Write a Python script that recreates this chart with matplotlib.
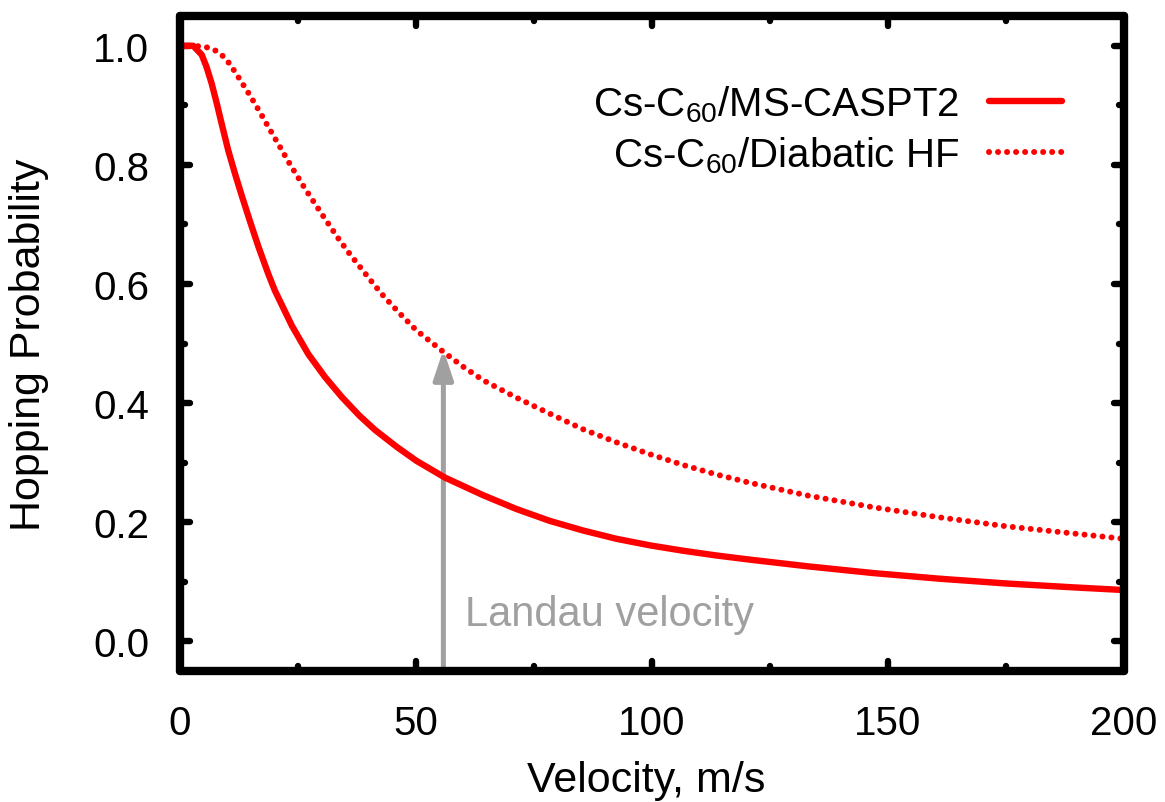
import matplotlib
matplotlib.use("Agg")
import matplotlib.pyplot as plt
import matplotlib.transforms as mtransforms
from matplotlib.markers import MarkerStyle
from matplotlib.ticker import MultipleLocator

# 字体: Helvetica 风格
plt.rcParams["font.family"] = ["Liberation Sans", "DejaVu Sans"]
plt.rcParams["mathtext.fontset"] = "custom"
plt.rcParams["mathtext.rm"] = "Liberation Sans"
plt.rcParams["mathtext.it"] = "Liberation Sans:italic"
plt.rcParams["mathtext.bf"] = "Liberation Sans:bold"

# ---------- 数据 ----------
v_caspt2 = [0, 2.8, 4.6, 5.6, 6.7, 7.8, 8.8, 10.2, 11.7, 13.1, 14.8, 16.6, 18.7,
            20.1, 23.7, 27.2, 30.7, 34.3, 38.0, 41.3, 46.0, 50.1, 56.1, 64.3,
            71.3, 78.4, 85.4, 92.5, 99.6, 106.6, 113.7, 120.8, 132.8, 146.9,
            161.0, 175.1, 189.3, 200]
p_caspt2 = [1.0, 1.0, 0.985, 0.965, 0.937, 0.903, 0.870, 0.825, 0.784, 0.748,
            0.706, 0.663, 0.617, 0.589, 0.530, 0.482, 0.444, 0.410, 0.379, 0.355,
            0.326, 0.303, 0.275, 0.245, 0.222, 0.202, 0.186, 0.172, 0.161, 0.152,
            0.144, 0.137, 0.126, 0.1145, 0.105, 0.097, 0.0905, 0.086]

v_hf = [0, 3.2, 6.0, 7.8, 9.2, 10.6, 12.4, 14.8, 16.9, 18.7, 20.1, 23.3, 26.5,
        30.0, 33.5, 36.0, 41.0, 43.1, 46.5, 50.1, 55.8, 60.0, 64.3, 71.3, 78.4,
        85.4, 92.5, 99.6, 106.6, 113.7, 120.8, 132.8, 146.9, 161.0, 175.1,
        189.3, 200]
p_hf = [1.0, 1.0, 0.997, 0.991, 0.982, 0.969, 0.947, 0.917, 0.889, 0.864, 0.845,
        0.801, 0.760, 0.718, 0.677, 0.650, 0.600, 0.580, 0.551, 0.522, 0.486,
        0.461, 0.438, 0.409, 0.382, 0.356, 0.334, 0.314, 0.296, 0.280, 0.266,
        0.245, 0.225, 0.208, 0.193, 0.181, 0.172]

labels = [r"Cs-C$_{60}$/MS-CASPT2", r"Cs-C$_{60}$/Diabatic HF"]

landau_v = 55.8      # Landau velocity
arrow_tip = 0.49

RED = "#ff0000"
GRAY = "#a0a0a0"
FS = 29

fig = plt.figure(figsize=(11.65, 8.03), dpi=100)
ax = fig.add_axes([0.1545, 0.1631, 0.8103, 0.8157])

# 箭头 + 文字
ax.annotate("", xy=(landau_v, arrow_tip), xytext=(landau_v, -0.05),
            arrowprops=dict(arrowstyle="-|>,head_length=0.9,head_width=0.3",
                            color=GRAY, lw=3.6, mutation_scale=20,
                            shrinkA=0, shrinkB=0), zorder=1)
ax.text(60.4, 0.028, "Landau velocity", color=GRAY, fontsize=30,
        ha="left", va="baseline")

ax.plot(v_caspt2, p_caspt2, color=RED, lw=4.6, solid_capstyle="round",
        solid_joinstyle="round", label=labels[0], zorder=2)
ax.plot(v_hf, p_hf, color=RED, lw=4.3, ls=(0, (0.01, 1.5)),
        dash_capstyle="round", label=labels[1], zorder=2)

ax.set_xlim(0, 200)
ax.set_ylim(-0.05, 1.05)
ax.xaxis.set_major_locator(MultipleLocator(50))
ax.xaxis.set_minor_locator(MultipleLocator(25))
ax.yaxis.set_major_locator(MultipleLocator(0.2))
ax.yaxis.set_minor_locator(MultipleLocator(0.1))
ax.yaxis.set_major_formatter(lambda y, pos: f"{y:.1f}")

ax.tick_params(which="both", direction="in", top=True, right=True,
               width=4.6, color="black", labelsize=FS)
ax.tick_params(which="major", length=7.4)
ax.tick_params(which="minor", length=3.8)
ax.tick_params(axis="x", pad=24)
ax.tick_params(axis="y", pad=22)

# 圆头刻度
for axis in (ax.xaxis, ax.yaxis):
    for t in axis.get_major_ticks() + axis.get_minor_ticks():
        for ln in (t.tick1line, t.tick2line):
            ln.set_marker(MarkerStyle(ln.get_marker(), capstyle="round"))

# "0" 标签略向右 (gnuplot 风格)
lbl0 = ax.xaxis.get_major_ticks()[0].label1
lbl0.set_transform(lbl0.get_transform()
                   + mtransforms.ScaledTranslation(0.1, 0, fig.dpi_scale_trans))

for sp in ax.spines.values():
    sp.set_linewidth(6)
    sp.set_capstyle("round")
    sp.set_joinstyle("round")

ax.set_xlabel("Velocity, m/s", fontsize=31)
ax.set_ylabel("Hopping Probability", fontsize=31)
ax.xaxis.set_label_coords(0.494, -0.136)
ax.yaxis.set_label_coords(-0.139, 0.5)

ax.legend(loc="upper right", bbox_to_anchor=(0.934, 0.897), frameon=False,
          markerfirst=False, fontsize=FS, handlelength=1.8, handletextpad=0.75,
          labelspacing=0.25, borderaxespad=0, borderpad=0)

plt.savefig("out.png", dpi=100)
plt.close()
